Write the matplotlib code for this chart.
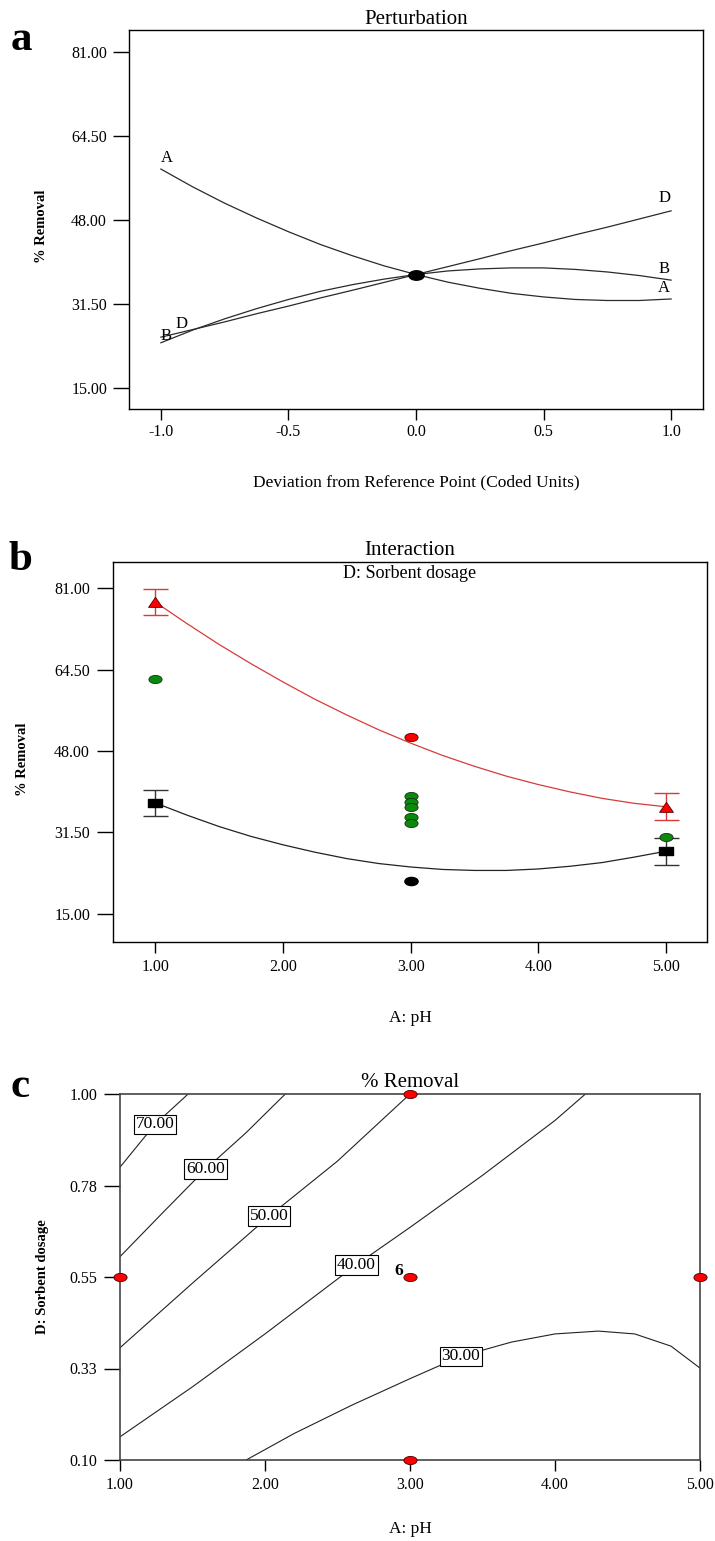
import matplotlib
matplotlib.use('Agg')
import matplotlib.pyplot as plt
from matplotlib.path import Path
from matplotlib.ticker import FormatStrFormatter

plt.rcParams['font.family'] = 'serif'
plt.rcParams['font.serif'] = ['Liberation Serif', 'DejaVu Serif']
plt.rcParams['font.size'] = 11.5
plt.rcParams['axes.linewidth'] = 1.0

# ================= DATA =================
# (a) perturbation traces, deviation in coded units
dev = [-1.0, -0.875, -0.75, -0.625, -0.5, -0.375, -0.25, -0.125, 0.0,
       0.125, 0.25, 0.375, 0.5, 0.625, 0.75, 0.875, 1.0]
pert_A = [58.0, 54.5, 51.3, 48.4, 45.7, 43.2, 41.0, 39.0, 37.3,
          35.8, 34.6, 33.6, 32.9, 32.4, 32.2, 32.2, 32.5]
pert_B = [23.9, 26.4, 28.6, 30.6, 32.4, 34.0, 35.3, 36.4, 37.3,
          38.0, 38.4, 38.6, 38.6, 38.3, 37.8, 37.1, 36.2]
pert_D = [25.0, 26.5, 28.0, 29.6, 31.1, 32.7, 34.2, 35.75, 37.3,
          38.85, 40.4, 42.0, 43.5, 45.1, 46.6, 48.2, 49.8]
ref_point = [0.0]
ref_value = [37.3]

# (b) interaction pH x sorbent dosage
ph_curve = [1.0, 1.25, 1.5, 1.75, 2.0, 2.25, 2.5, 2.75, 3.0,
            3.25, 3.5, 3.75, 4.0, 4.25, 4.5, 4.75, 5.0]
dose_high = [78.2, 73.8, 69.6, 65.7, 62.0, 58.5, 55.3, 52.3, 49.6,
             47.1, 44.9, 42.9, 41.2, 39.7, 38.4, 37.4, 36.7]
dose_low = [37.5, 35.0, 32.7, 30.7, 29.0, 27.5, 26.2, 25.2, 24.5,
            24.0, 23.8, 23.8, 24.1, 24.65, 25.4, 26.5, 27.7]
ph_ends = [1.0, 5.0]
high_ends = [78.2, 36.7]
low_ends = [37.5, 27.7]
lsd_half = [2.7, 2.7]
green_ph = [1, 3, 3, 3, 3, 3, 5]
green_y = [62.6, 38.8, 37.6, 36.6, 34.7, 33.5, 30.5]
red_ph = [3]
red_y = [50.9]
black_ph = [3]
black_y = [21.7]

# (c) contour lines of % removal
c70_ph = [1.00, 1.24, 1.47]
c70_dose = [0.82, 0.925, 1.00]
c60_ph = [1.00, 1.30, 1.59, 1.87, 2.14]
c60_dose = [0.60, 0.71, 0.815, 0.905, 1.00]
c50_ph = [1.00, 1.50, 2.03, 2.50, 3.00]
c50_dose = [0.376, 0.535, 0.70, 0.835, 1.00]
c40_ph = [1.00, 1.50, 2.00, 2.50, 2.63, 3.00, 3.50, 4.00, 4.21]
c40_dose = [0.157, 0.28, 0.41, 0.545, 0.58, 0.672, 0.80, 0.935, 1.00]
c30_ph = [1.87, 2.20, 2.60, 3.00, 3.35, 3.70, 4.00, 4.30, 4.55, 4.80, 5.00]
c30_dose = [0.10, 0.165, 0.235, 0.30, 0.355, 0.39, 0.41, 0.417, 0.41, 0.38, 0.326]
contour_levels = [70, 60, 50, 40, 30]
design_ph = [1, 3, 3, 3, 5]
design_dose = [0.55, 1.00, 0.55, 0.10, 0.55]
center_reps = 6

removal_ticks = [15.0, 31.5, 48.0, 64.5, 81.0]
dev_ticks = [-1.0, -0.5, 0.0, 0.5, 1.0]
ph_ticks = [1, 2, 3, 4, 5]
dose_ticks = [0.10, 0.325, 0.55, 0.775, 1.00]
dose_ticklabels = ['0.10', '0.33', '0.55', '0.78', '1.00']

# ================= MARKERS =================
ELLIPSE = Path.unit_circle().transformed(matplotlib.transforms.Affine2D().scale(1.0, 0.62))
RECT = Path([(-1, -0.55), (1, -0.55), (1, 0.55), (-1, 0.55), (-1, -0.55)],
            [Path.MOVETO, Path.LINETO, Path.LINETO, Path.LINETO, Path.CLOSEPOLY])
TRI = Path([(-1, -0.7), (1, -0.7), (0, 0.75), (-1, -0.7)],
           [Path.MOVETO, Path.LINETO, Path.LINETO, Path.CLOSEPOLY])

W, H = 715, 1541
fig = plt.figure(figsize=(W / 100, H / 100), dpi=100)


def px_axes(left, top, right, bottom):
    return fig.add_axes([left / W, 1 - bottom / H, (right - left) / W, (bottom - top) / H])


def style_axes(ax, ypad, xpad):
    ax.tick_params(axis='y', direction='out', length=11.5, width=1, pad=ypad, labelsize=11.5)
    ax.tick_params(axis='x', direction='out', length=8, width=1, pad=xpad, labelsize=11.5)


# --- PANEL A ---
ax1 = px_axes(129, 30, 703, 409)
for ys in (pert_A, pert_B, pert_D):
    ax1.plot(dev, ys, color='#2a2a2a', lw=0.9)
ax1.plot(ref_point, ref_value, marker=ELLIPSE, ms=11, color='black', ls='none')
ax1.set_xlim(-1.125, 1.125)
ax1.set_ylim(10.9, 85.3)
ax1.set_xticks(dev_ticks)
ax1.set_yticks(removal_ticks)
ax1.xaxis.set_major_formatter(FormatStrFormatter('%.1f'))
ax1.yaxis.set_major_formatter(FormatStrFormatter('%.2f'))
style_axes(ax1, 4.3, 3)
ax1.set_title('Perturbation', fontsize=15, pad=4)
ax1.set_xlabel('Deviation from Reference Point (Coded Units)', fontsize=12.5)
ax1.xaxis.label.set_va('center')
ax1.xaxis.set_label_coords(0.5, -0.193)
ax1.set_ylabel('% Removal', fontsize=10.5, fontweight='bold')
ax1.yaxis.label.set_va('center')
ax1.yaxis.set_label_coords(-0.152, 0.482)
lab = dict(textcoords='offset points', ha='center', va='bottom', fontsize=12)
ax1.annotate('A', (dev[0], pert_A[0]), xytext=(4, 2), **lab)
ax1.annotate('A', (dev[-1], pert_A[-1]), xytext=(-5, 2), **lab)
ax1.annotate('B', (dev[-1], pert_B[-1]), xytext=(-5, 2.5), **lab)
ax1.annotate('D', (dev[-1], pert_D[-1]), xytext=(-5, 3.5), **lab)
ax1.annotate('B', (dev[0], pert_B[0]), xytext=(4, -1), **lab)
ax1.annotate('D', (dev[0], pert_D[0]), xytext=(15, 4), **lab)

# --- PANEL B ---
ax2 = px_axes(113, 562, 707, 942)
ax2.plot(ph_curve, dose_high, color='#d83a3a', lw=0.9)
ax2.plot(ph_curve, dose_low, color='#222222', lw=0.9)
ax2.errorbar(ph_ends, high_ends, yerr=lsd_half, fmt='none', ecolor='#d83a3a',
             elinewidth=1, capsize=9, capthick=1)
ax2.errorbar(ph_ends, low_ends, yerr=lsd_half, fmt='none', ecolor='#333333',
             elinewidth=1, capsize=9, capthick=1)
ax2.plot(ph_ends, high_ends, marker=TRI, ms=10, ls='none', mfc='red', mec='#550000', mew=0.6)
ax2.plot(ph_ends, low_ends, marker=RECT, ms=9.5, ls='none', mfc='black', mec='black')
ax2.plot(green_ph, green_y, marker=ELLIPSE, ms=9.5, ls='none', mfc='#0a8a0a', mec='#1a2a1a', mew=0.6)
ax2.plot(red_ph, red_y, marker=ELLIPSE, ms=9.5, ls='none', mfc='red', mec='#400000', mew=0.6)
ax2.plot(black_ph, black_y, marker=ELLIPSE, ms=9.5, ls='none', mfc='black', mec='black')
ax2.set_xlim(0.67, 5.32)
ax2.set_ylim(9.3, 86.3)
ax2.set_xticks(ph_ticks)
ax2.set_yticks(removal_ticks)
ax2.xaxis.set_major_formatter(FormatStrFormatter('%.2f'))
ax2.yaxis.set_major_formatter(FormatStrFormatter('%.2f'))
style_axes(ax2, 5, 4)
ax2.set_title('Interaction', fontsize=15, pad=5)
ax2.text(0.5, 0.971, 'D: Sorbent dosage', transform=ax2.transAxes, ha='center', va='center', fontsize=13)
ax2.set_xlabel('A: pH', fontsize=12.5)
ax2.xaxis.label.set_va('center')
ax2.xaxis.set_label_coords(0.5, -0.2)
ax2.set_ylabel('% Removal', fontsize=10.5, fontweight='bold')
ax2.yaxis.label.set_va('center')
ax2.yaxis.set_label_coords(-0.153, 0.48)

# --- PANEL C ---
ax3 = px_axes(120, 1094, 700, 1460)
lines_c = [(c70_ph, c70_dose, 1), (c60_ph, c60_dose, 2), (c50_ph, c50_dose, 2),
           (c40_ph, c40_dose, 4), (c30_ph, c30_dose, 4)]
for level, (xs, ys, k) in zip(contour_levels, lines_c):
    ax3.plot(xs, ys, color='#222222', lw=0.8)
    ax3.text(xs[k], ys[k], f'{level:.2f}', ha='center', va='center', fontsize=12.5, zorder=4,
             bbox=dict(boxstyle='square,pad=0.1', fc='white', ec='black', lw=0.8))
ax3.plot(design_ph, design_dose, marker=ELLIPSE, ms=9.5, ls='none', mfc='red',
         mec='#400000', mew=0.6, clip_on=False, zorder=5)
ax3.annotate(str(center_reps), (design_ph[2], design_dose[2]), xytext=(-8, 4),
             textcoords='offset points', ha='center', va='center', fontsize=12.5, fontweight='bold')
ax3.set_xlim(1, 5)
ax3.set_ylim(0.1, 1.0)
ax3.set_xticks(ph_ticks)
ax3.set_yticks(dose_ticks)
ax3.set_yticklabels(dose_ticklabels)
ax3.xaxis.set_major_formatter(FormatStrFormatter('%.2f'))
for sp in ax3.spines.values():
    sp.set_color('#444444')
    sp.set_linewidth(1.2)
style_axes(ax3, 5, 4)
ax3.set_title('% Removal', fontsize=15, pad=5)
ax3.set_xlabel('A: pH', fontsize=12.5)
ax3.xaxis.label.set_va('center')
ax3.xaxis.set_label_coords(0.5, -0.189)
ax3.set_ylabel('D: Sorbent dosage', fontsize=10.5, fontweight='bold')
ax3.yaxis.label.set_va('center')
ax3.yaxis.set_label_coords(-0.134, 0.5)

# panel letters
for letter, (x, y) in zip('abc', [(21, 40), (20, 560), (20, 1087)]):
    fig.text(x / W, 1 - y / H, letter, ha='center', va='center', fontsize=31, fontweight='bold')

fig.savefig('out.png', dpi=100)
